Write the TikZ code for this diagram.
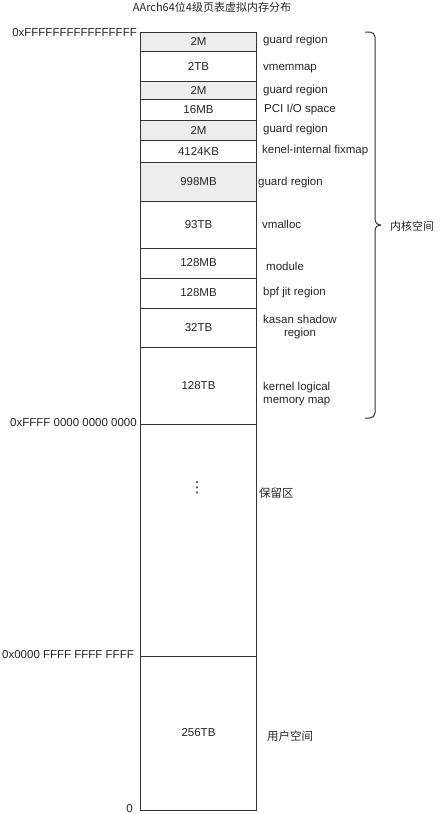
\documentclass[tikz,border=0pt]{standalone}
\usepackage{fontspec}
\setmainfont{Liberation Sans}
\newfontfamily\cjk{Noto Sans CJK SC}
\newfontfamily\symb{DejaVu Sans}
\usetikzlibrary{positioning}

\begin{document}
\begin{tikzpicture}[x=1pt, y=-1pt,
    cell/.style={rectangle,
        draw=black!80, % Cell border colour.
        line width=1pt,
        minimum width=115.5pt,
        inner sep=0pt,
        text=black!85,
        font=\fontsize{11.5}{13.5}\selectfont},
    guard/.style={cell,
        fill=black!7}, % Grey guard cells.
    lbl/.style={anchor=west, inner sep=0pt, text=black!85, font=\fontsize{11.5}{13.5}\selectfont},
    addr/.style={anchor=east, inner sep=0pt, text=black!85, font=\fontsize{11.5}{13.5}\selectfont},
    brace/.style={draw=black!80, line width=1pt, rounded corners=5pt}]

        \useasboundingbox (0,0) rectangle (442,814);

        % Title.
        \node[text=black!85, font=\cjk\fontsize{11}{13}\selectfont] (title) at (212,7) {AArch64位4级页表虚拟内存分布};

        % Memory cells, top to bottom.
        \foreach \n/\ya/\yb/\sz/\st in {c1/32/51/2M/guard, c2/51/81/2TB/cell,
            c3/81/99/2M/guard, c4/99/120/16MB/cell, c5/120/140/2M/guard,
            c6/140/162/4124KB/cell, c7/162/201/998MB/guard, c8/201/248/93TB/cell,
            c9/248/278/128MB/cell, c10/278/308/128MB/cell, c11/308/347/32TB/cell,
            c12/347/424/128TB/cell, c13/424/656//cell, c14/656/810/256TB/cell}
        \node[\st, minimum height={(\yb-\ya)*1pt}] (\n) at (198.5,{(\ya+\yb)/2}) {\sz};

        \node[inner sep=0pt, text=black!85, font=\symb\fontsize{15}{15}\selectfont] (dots) at (197,488) {⋮};

        % Addresses.
        \node[addr] (a1) at (137,33) {0xFFFFFFFFFFFFFFFF};
        \node[addr] (a2) at (137,423) {0xFFFF 0000 0000 0000};
        \node[addr] (a3) at (134,655) {0x0000 FFFF FFFF FFFF};
        \node[addr] (a4) at (133,809) {0};

        % Region names.
        \foreach \n/\x/\y/\txt in {l1/263/41/guard region, l2/263/69/vmemmap,
            l3/263/91/guard region, l4/264/110/{PCI I/O space}, l5/263/130/guard region,
            l6/262/151/kenel-internal fixmap, l7/258/183/guard region, l8/262/224/vmalloc,
            l9/266/266/module, l10/263/293/bpf jit region,
            l13/259/493/{\cjk 保留区}, l14/267/736/{\cjk 用户空间}}
        \node[lbl] (\n) at (\x,\y) {\txt};

        \node[lbl, anchor=center, align=center] (l11) at (300,327) {kasan shadow\\region};
        \node[lbl, align=left] (l12) at (263,394) {kernel logical\\memory map};

        % Kernel space brace.
        \node[lbl, font=\cjk\fontsize{11}{13}\selectfont] (kern) at (390,226) {内核空间};
        \draw[brace] (365,32) -- (375,32) -- (375,225) -- (381,225);
        \draw[brace] (381,225) -- (375,225) -- (375,418) -- (365,418);
    \end{tikzpicture}
\end{document}
